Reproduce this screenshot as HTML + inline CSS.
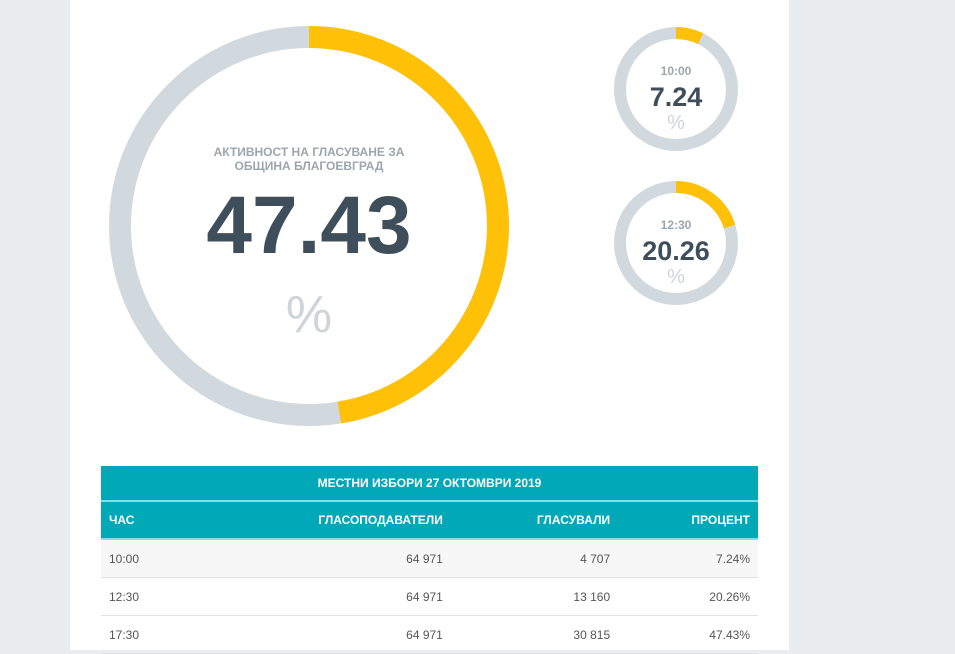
<!DOCTYPE html>
<html><head><meta charset="utf-8"><style>
body{margin:0;width:955px;height:650px;background:#e9edf0;font-family:"Liberation Sans",sans-serif;overflow:hidden;position:relative}
#panel{position:absolute;left:70px;top:0;width:719px;height:650px;background:#fff}
svg{position:absolute;left:0;top:0}
table{position:absolute;left:101px;top:466px;width:657px;border-collapse:collapse;font-size:12px}
th{background:#00a8b8;color:#fff;font-weight:bold;height:36px;padding:0 8px;font-size:12px}
.t th{height:34px;border-bottom:2px solid #7fe0ea}
.h th{border-bottom:2px solid #7fe0ea}
td{height:37px;padding:0 8px;color:#555;border-bottom:1px solid #e2e2e2}
tr.r1 td{background:#f7f7f7}
.r{text-align:right}
</style></head><body>
<div id="panel"></div>
<svg id="chart" width="955" height="650"></svg>
<table>
<tr class="t"><th colspan="4">МЕСТНИ ИЗБОРИ 27 ОКТОМВРИ 2019</th></tr>
<tr class="h"><th style="text-align:left">ЧАС</th><th class="r">ГЛАСОПОДАВАТЕЛИ</th><th class="r">ГЛАСУВАЛИ</th><th class="r">ПРОЦЕНТ</th></tr>
<tr class="r1"><td>10:00</td><td class="r">64 971</td><td class="r">4 707</td><td class="r">7.24%</td></tr>
<tr><td>12:30</td><td class="r">64 971</td><td class="r">13 160</td><td class="r">20.26%</td></tr>
<tr><td>17:30</td><td class="r">64 971</td><td class="r">30 815</td><td class="r">47.43%</td></tr>
</table>
<script>
const labels=["АКТИВНОСТ НА ГЛАСУВАНЕ ЗА ОБЩИНА БЛАГОЕВГРАД","10:00","12:30"];
const values=[47.43,7.24,20.26];
const svg=document.getElementById('chart');
const NS="http://www.w3.org/2000/svg";
const geo=[{cx:309,cy:226,r:189,w:22},{cx:676,cy:89,r:56,w:12},{cx:676,cy:243,r:56,w:12}];
function mk(t,a){const e=document.createElementNS(NS,t);for(const k in a)e.setAttribute(k,a[k]);svg.appendChild(e);return e;}
values.forEach((v,i)=>{
 const g=geo[i];
 const bg=mk('circle',{cx:g.cx,cy:g.cy,r:g.r,fill:'none',stroke:'#d2d9de','stroke-width':g.w});
 
 
 const a=v/100*2*Math.PI;
 const x=g.cx+g.r*Math.sin(a),y=g.cy-g.r*Math.cos(a);
 const arc=mk('path',{d:`M${g.cx} ${g.cy-g.r} A${g.r} ${g.r} 0 ${v>50?1:0} 1 ${x} ${y}`,fill:'none',stroke:'#ffc107','stroke-width':g.w});
 
 
 const big=i===0;
 if(big){
  const l1=mk('text',{x:g.cx,y:156,'text-anchor':'middle','font-size':12,'font-weight':'bold',fill:'#9ba6ae'});l1.textContent="АКТИВНОСТ НА ГЛАСУВАНЕ ЗА";
  
  
  const l2=mk('text',{x:g.cx,y:170,'text-anchor':'middle','font-size':12,'font-weight':'bold',fill:'#9ba6ae'});l2.textContent="ОБЩИНА БЛАГОЕВГРАД";
  
  
 }else{
  const l=mk('text',{x:g.cx,y:g.cy-14,'text-anchor':'middle','font-size':12,'font-weight':'bold',fill:'#9ba6ae'});l.textContent=labels[i];
  
  
 }
 const n=mk('text',{x:g.cx,y:big?253:g.cy+17,'text-anchor':'middle','font-size':big?82:27,'font-weight':'bold',fill:'#3e4f5b'});n.textContent=v.toFixed(2);
 
 
 const p=mk('text',{x:g.cx,y:big?332:g.cy+40,'text-anchor':'middle','font-size':big?52:20,fill:'#cdd5db'});p.textContent="%";
 
 
});
</script>
</body></html>
